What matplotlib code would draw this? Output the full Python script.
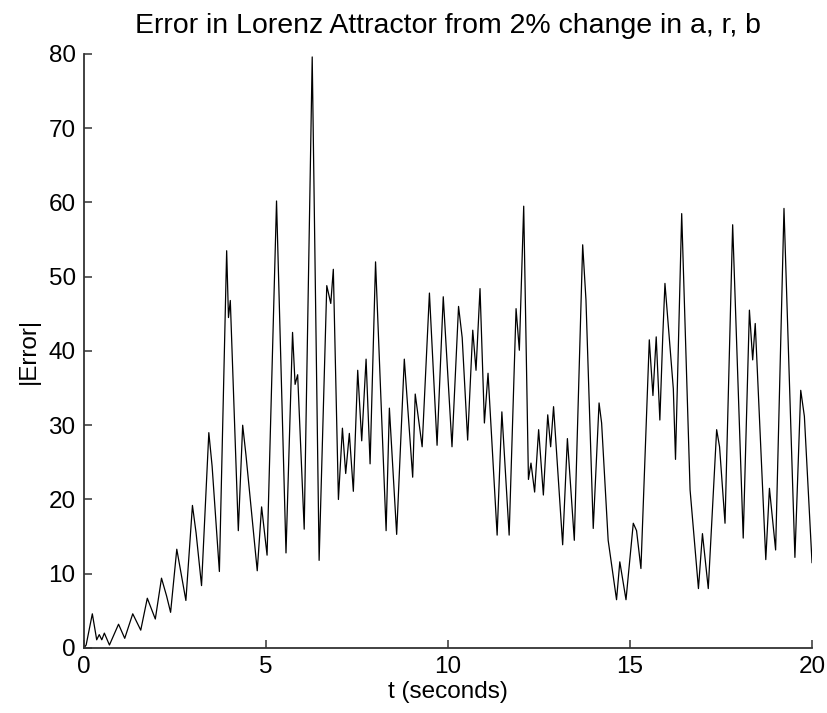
import matplotlib
matplotlib.use("Agg")
import matplotlib.pyplot as plt

plt.rcParams['font.family'] = ['Liberation Sans', 'DejaVu Sans']

# error curve (peaks / troughs)
t_sec = [0.00, 0.06, 0.23, 0.35, 0.42, 0.49, 0.56, 0.70, 0.95, 1.12,
         1.34, 1.56, 1.74, 1.96, 2.13, 2.27, 2.38, 2.55, 2.80, 2.98,
         3.08, 3.23, 3.43, 3.52, 3.72, 3.92, 3.97, 4.02, 4.24, 4.36,
         4.45, 4.76, 4.88, 5.03, 5.29, 5.55, 5.73, 5.80, 5.87, 6.05,
         6.27, 6.46, 6.67, 6.78, 6.85, 6.99, 7.10, 7.19, 7.29, 7.40,
         7.52, 7.63, 7.75, 7.86, 8.01, 8.30, 8.39, 8.59, 8.80, 9.03,
         9.10, 9.29, 9.49, 9.70, 9.87, 10.11, 10.29, 10.39, 10.54, 10.68,
         10.77, 10.88, 11.00, 11.10, 11.35, 11.48, 11.68, 11.87, 11.96, 12.08,
         12.21, 12.28, 12.38, 12.49, 12.62, 12.74, 12.82, 12.90, 13.15, 13.28,
         13.47, 13.70, 13.79, 13.99, 14.15, 14.22, 14.40, 14.63, 14.72, 14.89,
         15.09, 15.18, 15.30, 15.53, 15.63, 15.72, 15.82, 15.90, 15.96, 16.19,
         16.25, 16.42, 16.65, 16.88, 16.99, 17.15, 17.38, 17.46, 17.61, 17.82,
         18.11, 18.28, 18.37, 18.44, 18.73, 18.83, 19.00, 19.23, 19.53, 19.69,
         19.79, 20.00]
err = [0.0, 0.4, 4.6, 1.1, 1.8, 1.1, 2.0, 0.4, 3.2, 1.3,
       4.6, 2.4, 6.7, 3.9, 9.4, 7.0, 4.8, 13.3, 6.4, 19.2,
       15.5, 8.4, 29.0, 24.5, 10.3, 53.5, 44.5, 46.8, 15.8, 30.0,
       26.0, 10.4, 19.0, 12.5, 60.2, 12.8, 42.5, 35.5, 36.8, 16.0,
       79.6, 11.8, 48.8, 46.4, 51.0, 20.0, 29.6, 23.5, 28.9, 21.1,
       37.4, 27.9, 38.9, 24.8, 52.0, 15.8, 32.3, 15.3, 38.9, 23.0,
       34.2, 27.1, 47.8, 27.3, 47.3, 27.1, 46.0, 41.8, 28.0, 42.8,
       37.4, 48.4, 30.3, 37.0, 15.2, 31.8, 15.2, 45.7, 40.1, 59.5,
       22.7, 24.9, 21.0, 29.4, 20.6, 31.4, 27.1, 32.5, 13.9, 28.2,
       14.5, 54.3, 46.9, 16.1, 33.0, 30.3, 14.5, 6.5, 11.6, 6.5,
       16.8, 15.8, 10.7, 41.5, 34.0, 41.9, 30.7, 42.0, 49.1, 34.9,
       25.4, 58.5, 21.3, 8.0, 15.4, 8.0, 29.4, 27.1, 16.8, 57.0,
       14.8, 45.5, 38.8, 43.7, 11.9, 21.5, 13.2, 59.2, 12.2, 34.7,
       31.2, 11.5]

x_ticks = [0, 5, 10, 15, 20]
y_ticks = [0, 10, 20, 30, 40, 50, 60, 70, 80]

fig = plt.figure(figsize=(8.28, 7.13), dpi=100)
ax = fig.add_axes([0.1014, 0.0912, 0.8793, 0.8331])

ax.plot(t_sec, err, color="black", lw=0.9)

ax.set_xlim(0, 20)
ax.set_ylim(0, 80)
ax.set_xticks(x_ticks)
ax.set_yticks(y_ticks)

# matlab style: box off, ticks inside
for side in ("top", "right"):
    ax.spines[side].set_visible(False)
for side in ("left", "bottom"):
    ax.spines[side].set_color("#333333")
    ax.spines[side].set_linewidth(1.3)

ax.tick_params(direction="in", length=6, width=1.1, color="#333333",
               labelsize=17.5, pad=6)

ax.set_title("Error in Lorenz Attractor from 2% change in a, r, b",
             fontsize=20.5, pad=15)
ax.set_xlabel("t (seconds)", fontsize=17.5, labelpad=2)
ax.set_ylabel("|Error|", fontsize=17.5, labelpad=6)

fig.savefig("out.png", dpi=100)
